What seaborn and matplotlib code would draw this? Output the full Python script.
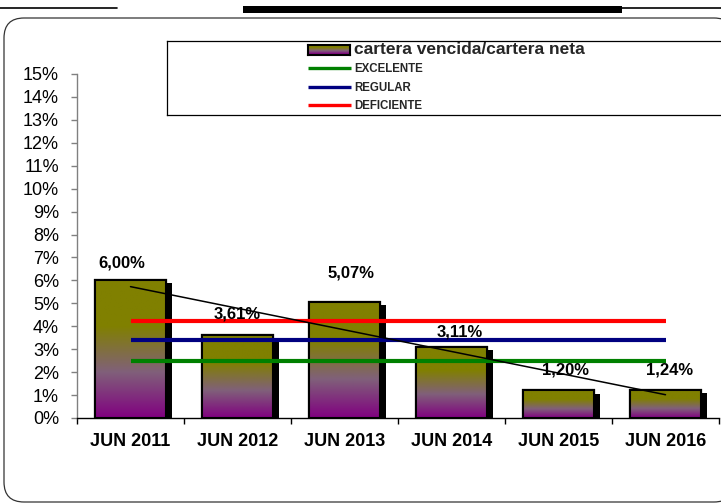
import numpy as np
import pandas as pd
import matplotlib
matplotlib.use("Agg")
import matplotlib.pyplot as plt
import seaborn as sns
from matplotlib.patches import Rectangle, FancyBboxPatch
from matplotlib.lines import Line2D
from matplotlib.transforms import IdentityTransform
import matplotlib.patheffects as pe
from matplotlib.colors import LinearSegmentedColormap

# ---------------- data ----------------
categories = ["JUN 2011", "JUN 2012", "JUN 2013", "JUN 2014", "JUN 2015", "JUN 2016"]
values = [6.00, 3.61, 5.07, 3.11, 1.20, 1.24]
value_labels = ["6,00%", "3,61%", "5,07%", "3,11%", "1,20%", "1,24%"]
series_name = "cartera vencida/cartera neta"
ref_names = ["EXCELENTE", "REGULAR", "DEFICIENTE"]
ref_values = [2.50, 3.40, 4.25]
ref_colors = ["#008000", "#000080", "#FF0000"]
y_ticks = list(range(0, 16))
y_tick_labels = [f"{t}%" for t in y_ticks]

# label offsets (pixels) as placed in the original
label_dx = [-9, 0, 7, 8, 7, 4]
label_dy = [17, 21, 29, 15, 20, 20]

# ---------------- style ----------------
sns.set_theme(style="ticks")
plt.rcParams['font.family'] = ['Liberation Sans', 'DejaVu Sans']

W, H = 721, 503
fig = plt.figure(figsize=(W / 100, H / 100), dpi=100)
fig.patch.set_facecolor("white")

def fy(py):
    return 1 - py / H

ax = fig.add_axes([77 / W, 1 - 418 / H, 642 / W, 344 / H])
ax.set_facecolor("none")

df = pd.DataFrame({"periodo": categories, "valor": values})
sns.barplot(data=df, x="periodo", y="valor", color="#808000", width=0.66,
            edgecolor="black", linewidth=1.5, ax=ax, zorder=2, saturation=1)

cmap = LinearSegmentedColormap.from_list("grad", ["#800080", "#80607a", "#808000", "#808000"])
grad = np.linspace(0, 1, 256).reshape(-1, 1)
for patch in list(ax.patches):
    x0, y0 = patch.get_x(), patch.get_y()
    w, h = patch.get_width(), patch.get_height()
    patch.set_path_effects([pe.withSimplePatchShadow(offset=(4.3, -2.2),
                                                     shadow_rgbFace="black", alpha=1.0),
                            pe.Normal()])
    im = ax.imshow(grad, extent=[x0, x0 + w, y0, y0 + h], origin="lower",
                   cmap=cmap, aspect="auto", zorder=2.1, interpolation="bilinear")
    im.set_clip_path(patch)
    ax.add_patch(Rectangle((x0, y0), w, h, fill=False, ec="black", lw=1.5, zorder=2.2))

n = len(categories)
xs = np.arange(n)

# reference lines
for v, c in zip(ref_values, ref_colors):
    ax.plot([xs[0], xs[-1]], [v, v], color=c, lw=3, solid_capstyle="butt", zorder=3)

# linear trend line
coef = np.polyfit(xs, values, 1)
ax.plot([xs[0], xs[-1]], np.polyval(coef, [xs[0], xs[-1]]), color="black", lw=1.1, zorder=4)

# value labels
for i, (v, lab) in enumerate(zip(values, value_labels)):
    ax.annotate(lab, (xs[i], v), xytext=(label_dx[i] * 0.72, label_dy[i] * 0.72),
                textcoords="offset points", ha="center", va="center",
                fontsize=12, fontweight="bold", color="black", zorder=5)

ax.set_xlim(-0.5, n - 0.5)
ax.set_ylim(0, 15)
ax.set_yticks(y_ticks)
ax.set_yticklabels(y_tick_labels)
ax.set_xticks(xs)
ax.set_xticklabels(categories, fontweight="bold")
ax.set_xticks(np.arange(-0.5, n, 1.0), minor=True)
ax.set_xlabel("")
ax.set_ylabel("")
ax.tick_params(axis="y", which="major", left=True, length=4.3, width=1, color="#808080",
               pad=8.6, labelsize=13, direction="out", labelcolor="black")
ax.tick_params(axis="x", which="major", bottom=True, length=0, pad=11, labelsize=13,
               labelcolor="black")
ax.tick_params(axis="x", which="minor", bottom=True, length=4, width=1, color="black",
               direction="out")
for s in ["top", "right"]:
    ax.spines[s].set_visible(False)
ax.spines["left"].set_color("#808080")
ax.spines["left"].set_linewidth(1)
ax.spines["bottom"].set_color("black")
ax.spines["bottom"].set_linewidth(1)

# ---------------- decorations ----------------
fig.add_artist(Line2D([0, 117 / W], [fy(8.3)] * 2, transform=fig.transFigure,
                      color="black", lw=1.2))
fig.add_artist(Rectangle((243 / W, fy(12.7)), (622 - 243) / W, 7 / H,
                         transform=fig.transFigure, color="black", lw=0))
fig.add_artist(Line2D([622 / W, 1], [fy(8.3)] * 2, transform=fig.transFigure,
                      color="black", lw=1.2))
frame = FancyBboxPatch((4, 1), 730, 503 - 18 - 1,
                       boxstyle="round,pad=0,rounding_size=20",
                       transform=IdentityTransform(), facecolor="white",
                       ec="#333333", lw=0.9, zorder=-2)
fig.add_artist(frame)

# ---------------- legend ----------------
lt, lb = 503 - 40.7, 503 - 114.5
for xa, ya, xb, yb in [(167, lt, 721, lt), (167, lb, 721, lb), (167, lt, 167, lb)]:
    fig.add_artist(Line2D([xa, xb], [ya, yb], transform=IdentityTransform(),
                          color="black", lw=0.9, solid_capstyle="projecting"))
fig.text(354 / W, fy(54.5), series_name, fontsize=12.5, fontweight="bold",
         ha="left", va="baseline")
lax = fig.add_axes([308 / W, 1 - 54.5 / H, 42 / W, 9.5 / H])
lax.imshow(grad, origin="lower", cmap=cmap, aspect="auto", extent=[0, 1, 0, 1])
lax.set_xticks([])
lax.set_yticks([])
for s in lax.spines.values():
    s.set_color("black")
    s.set_linewidth(1.5)
for name, c, yy, yb in zip(ref_names, ref_colors, [67.7, 86.7, 104.7], [71.6, 90.8, 108.8]):
    fig.add_artist(Line2D([308 / W, 351 / W], [fy(yy)] * 2, transform=fig.transFigure,
                          color=c, lw=2.4, solid_capstyle="butt"))
    fig.text(354 / W, fy(yb), name, fontsize=8.3, fontweight="bold", ha="left", va="baseline")

fig.savefig("out.png", dpi=100, facecolor="white")
